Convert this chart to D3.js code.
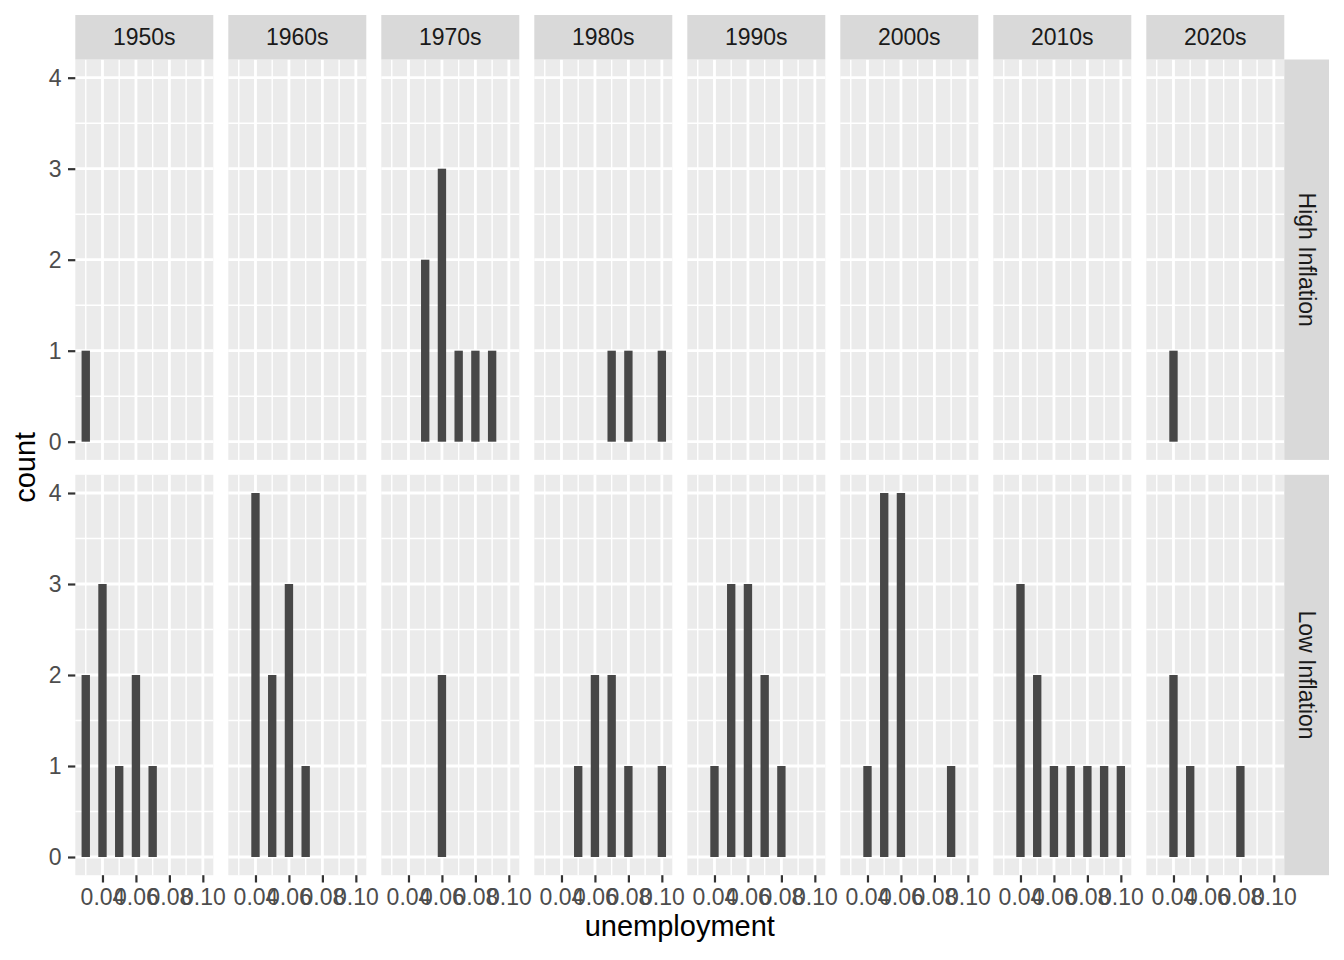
<!DOCTYPE html>
<html lang="en">
<head>
<meta charset="UTF-8">
<title>unemployment by decade</title>
<script src="https://d3js.org/d3.v7.min.js"></script>
<style>
  body { margin: 0; background: #fff; }
  text { font-family: "Liberation Sans", Arial, Helvetica, sans-serif; }
</style>
</head>
<body>
<svg id="chart" width="1344" height="960"></svg>
<script>
// facets
const decades = ["1950s", "1960s", "1970s", "1980s", "1990s", "2000s", "2010s", "2020s"];
const groups = ["High Inflation", "Low Inflation"];

// unemployment levels (bar centres) and counts per decade
const levels = [0.03, 0.04, 0.05, 0.06, 0.07, 0.08, 0.09, 0.10];
const highCounts = [
  [1, 0, 0, 0, 0, 0, 0, 0],
  [0, 0, 0, 0, 0, 0, 0, 0],
  [0, 0, 2, 3, 1, 1, 1, 0],
  [0, 0, 0, 0, 1, 1, 0, 1],
  [0, 0, 0, 0, 0, 0, 0, 0],
  [0, 0, 0, 0, 0, 0, 0, 0],
  [0, 0, 0, 0, 0, 0, 0, 0],
  [0, 1, 0, 0, 0, 0, 0, 0]
];
const lowCounts = [
  [2, 3, 1, 2, 1, 0, 0, 0],
  [0, 4, 2, 3, 1, 0, 0, 0],
  [0, 0, 0, 2, 0, 0, 0, 0],
  [0, 0, 1, 2, 2, 1, 0, 1],
  [0, 1, 3, 3, 2, 1, 0, 0],
  [0, 1, 4, 4, 0, 0, 1, 0],
  [0, 3, 2, 1, 1, 1, 1, 1],
  [0, 2, 1, 0, 0, 1, 0, 0]
];
const xTicks = [0.04, 0.06, 0.08, 0.10];
const xMinor = [0.03, 0.05, 0.07, 0.09];
const yTicks = [0, 1, 2, 3, 4];
const yMinor = [0.5, 1.5, 2.5, 3.5];
const barWidth = 0.005;

// layout
const left = 75.3, panelW = 138, gap = 15;
const stripTop = 15, stripH = 44.5;
const rowTop = [59.5, 474.8], panelH = 400.4;
const rightStripW = 44.7;

const svg = d3.select("#chart");

const x = d3.scaleLinear().domain([0.02375, 0.10625]).range([0, panelW]);
const y = d3.scaleLinear().domain([-0.2, 4.2]).range([panelH, 0]);

const counts = [highCounts, lowCounts];

groups.forEach((grp, r) => {
  decades.forEach((dec, c) => {
    const g = svg.append("g")
      .attr("transform", `translate(${left + c * (panelW + gap)},${rowTop[r]})`);

    g.append("rect").attr("width", panelW).attr("height", panelH).attr("fill", "#EBEBEB");

    // grid
    g.selectAll(".ymin").data(yMinor).join("line")
      .attr("x1", 0).attr("x2", panelW).attr("y1", d => y(d)).attr("y2", d => y(d))
      .attr("stroke", "#fff").attr("stroke-width", 1.4);
    g.selectAll(".xmin").data(xMinor).join("line")
      .attr("y1", 0).attr("y2", panelH).attr("x1", d => x(d)).attr("x2", d => x(d))
      .attr("stroke", "#fff").attr("stroke-width", 1.4);
    g.selectAll(".ymaj").data(yTicks).join("line")
      .attr("x1", 0).attr("x2", panelW).attr("y1", d => y(d)).attr("y2", d => y(d))
      .attr("stroke", "#fff").attr("stroke-width", 2.8);
    g.selectAll(".xmaj").data(xTicks).join("line")
      .attr("y1", 0).attr("y2", panelH).attr("x1", d => x(d)).attr("x2", d => x(d))
      .attr("stroke", "#fff").attr("stroke-width", 2.8);

    // bars
    const bars = levels.map((v, i) => ({ v, n: counts[r][c][i] })).filter(d => d.n > 0);
    g.selectAll(".bar").data(bars).join("rect")
      .attr("x", d => x(d.v - barWidth / 2))
      .attr("width", d => x(d.v + barWidth / 2) - x(d.v - barWidth / 2))
      .attr("y", d => y(d.n))
      .attr("height", d => y(0) - y(d.n))
      .attr("fill", "#474747");

    // top strips
    if (r === 0) {
      svg.append("rect")
        .attr("x", left + c * (panelW + gap)).attr("y", stripTop)
        .attr("width", panelW).attr("height", stripH).attr("fill", "#D9D9D9");
      svg.append("text")
        .attr("x", left + c * (panelW + gap) + panelW / 2).attr("y", stripTop + stripH / 2)
        .attr("text-anchor", "middle").attr("dominant-baseline", "central")
        .attr("font-size", 23).attr("fill", "#1A1A1A").text(dec);
    }

    // x axis on bottom row
    if (r === 1) {
      const ax = g.append("g").attr("transform", `translate(0,${panelH})`)
        .call(d3.axisBottom(x).tickValues(xTicks).tickFormat(d3.format(".2f"))
          .tickSize(7.3).tickPadding(5.9));
      ax.select(".domain").remove();
      ax.selectAll("line").attr("stroke", "#333").attr("stroke-width", 2.2);
      ax.selectAll("text").attr("font-size", 23).attr("fill", "#4D4D4D")
        .style("font-family", '"Liberation Sans", Arial, sans-serif');
    }

    // y axis on first column
    if (c === 0) {
      const ay = g.append("g")
        .call(d3.axisLeft(y).tickValues(yTicks).tickFormat(d3.format("d"))
          .tickSize(7.3).tickPadding(6.5));
      ay.select(".domain").remove();
      ay.selectAll("line").attr("stroke", "#333").attr("stroke-width", 2.2);
      ay.selectAll("text").attr("font-size", 23).attr("fill", "#4D4D4D")
        .style("font-family", '"Liberation Sans", Arial, sans-serif');
    }
  });

  // right strips
  const sx = left + decades.length * (panelW + gap) - gap;
  svg.append("rect").attr("x", sx).attr("y", rowTop[r])
    .attr("width", rightStripW).attr("height", panelH).attr("fill", "#D9D9D9");
  svg.append("text")
    .attr("transform", `translate(${sx + rightStripW / 2},${rowTop[r] + panelH / 2}) rotate(90)`)
    .attr("text-anchor", "middle").attr("dominant-baseline", "central")
    .attr("font-size", 23).attr("fill", "#1A1A1A").text(grp);
});

// axis titles
const plotRight = left + decades.length * (panelW + gap) - gap;
svg.append("text")
  .attr("x", (left + plotRight) / 2).attr("y", 936)
  .attr("text-anchor", "middle").attr("font-size", 29).attr("fill", "#000")
  .text("unemployment");
svg.append("text")
  .attr("transform", `translate(35,${(rowTop[0] + rowTop[1] + panelH) / 2}) rotate(-90)`)
  .attr("text-anchor", "middle").attr("font-size", 29).attr("fill", "#000")
  .text("count");
</script>
</body>
</html>
